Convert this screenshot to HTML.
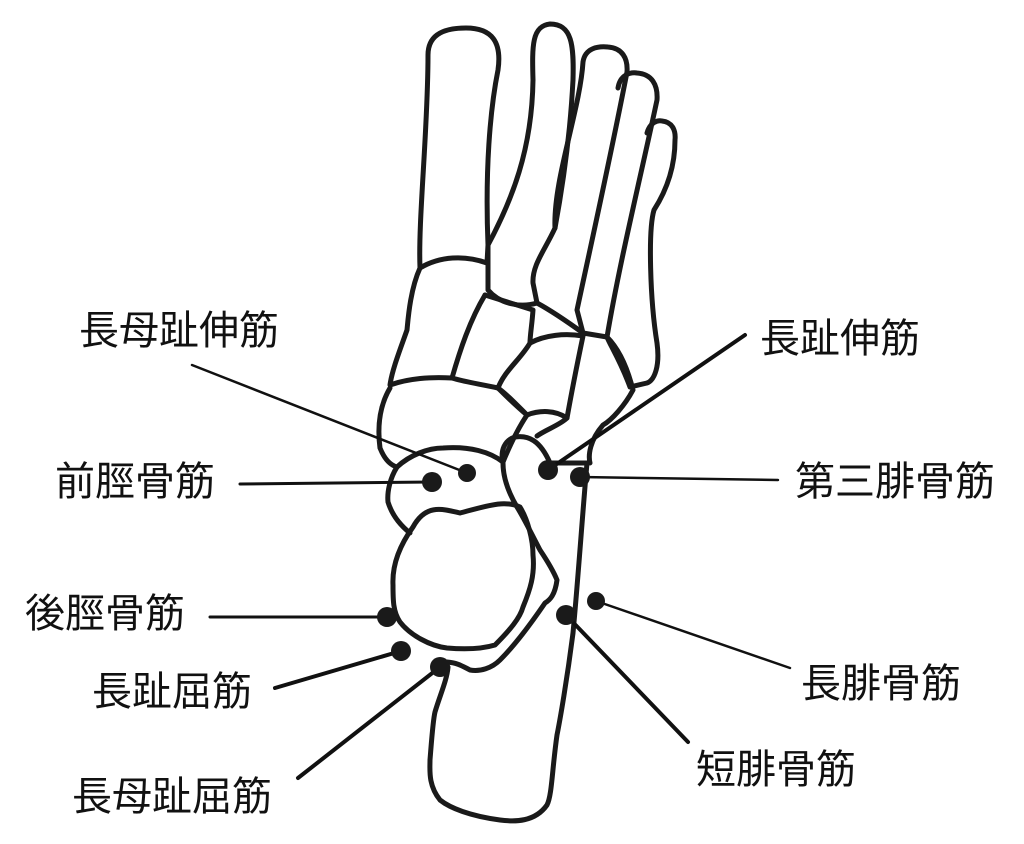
<!DOCTYPE html>
<html><head><meta charset="utf-8"><style>
html,body{margin:0;padding:0;background:#fff}
svg{display:block}
text{font-family:"Liberation Sans","Noto Sans CJK JP",sans-serif;font-size:40px;fill:#111}
</style></head><body>
<svg width="1024" height="844" viewBox="0 0 1024 844" xmlns="http://www.w3.org/2000/svg">
<g fill="none" stroke="#1a1a1a" stroke-width="5" stroke-linejoin="round" stroke-linecap="round">
<!-- big toe -->
<path d="M420,268 C418,220 428,130 428,55 C428,32 448,28 466,28 C492,28 502,42 498,70 C490,110 485,170 488,245 L487,263 C465,255 440,256 420,268 Z"/>
<!-- 2nd -->
<path d="M488,245 C512,200 532,150 533,80 C532,45 532,26 550,24 C572,24 574,45 573,80 C570,140 562,190 555,228 C545,250 532,265 533,283 L537,303 C520,308 500,304 488,290 Z"/>
<!-- 3rd -->
<path d="M555,228 C553,180 580,110 583,62 C585,48 598,46 608,47 C622,48 628,58 627,72 C612,150 592,240 577,310 L583,333 C565,320 550,310 537,303"/>
<!-- 4th -->
<path d="M618,88 C620,75 630,72 637,73 C652,74 658,85 657,100 C640,180 620,260 607,337 L583,333"/>
<!-- 5th -->
<path d="M647,133 C650,122 658,120 662,121 C672,122 676,130 675,140 C675,160 670,185 654,210 C648,230 650,300 657,343 C660,365 655,380 647,383 L630,387 C620,360 610,345 607,337"/>
<!-- cuneiforms -->
<path d="M420,268 C410,290 408,320 407,330 C400,350 392,370 390,385 C410,378 430,377 452,378 C460,350 470,320 485,295"/>
<path d="M485,295 L533,310 C532,325 530,335 530,343 C520,360 505,370 498,388 C480,384 465,382 452,378"/>
<path d="M530,343 C545,335 565,333 583,336 C578,360 572,390 567,418 C555,410 540,410 527,415 C515,405 505,395 498,388"/>
<path d="M607,337 C620,350 628,370 633,390 C625,405 612,420 603,425 C590,440 588,455 590,463"/>
<!-- navicular -->
<path d="M390,388 C380,405 377,425 380,448 C384,458 390,465 397,467 C410,455 428,448 443,448 C470,446 490,452 503,462 C510,445 517,430 527,415 C512,400 505,393 498,388"/>
<path d="M567,418 C560,425 545,430 537,436"/>
<!-- talus head circle -->
<path d="M397,467 C390,478 387,492 388,502 C392,515 400,525 410,533"/>
<!-- talus body -->
<path d="M460,513 C440,508 425,505 413,527 C400,545 392,565 393,585 C393,600 393,612 400,622 C410,635 430,646 447,648 C470,650 485,648 495,645 C510,630 520,618 523,607 C530,590 535,575 533,555 C533,540 528,520 520,507 C505,500 490,505 460,513 Z"/>
<!-- calcaneus -->
<path d="M503,463 C500,450 505,440 515,437 C528,435 540,440 550,463 L587,463 C582,520 578,580 573,633 C567,680 560,720 557,735 C552,770 552,795 547,805 C535,822 515,822 500,820 C470,816 450,808 440,800 C428,785 430,770 430,760 C432,735 433,720 435,712 C440,695 447,680 448,667"/>
<path d="M503,463 C503,475 507,490 517,507 C525,520 532,535 540,550 C550,565 555,575 557,580 C555,595 550,600 545,603 C530,625 515,645 500,660 C492,668 480,672 470,670 C462,666 458,663 447,662"/>
</g>
<g stroke="#111" stroke-linecap="round">
<line x1="192" y1="365" x2="467" y2="473" stroke-width="2.5"/>
<line x1="240" y1="484" x2="432" y2="482" stroke-width="3"/>
<line x1="745" y1="335" x2="548" y2="470" stroke-width="4"/>
<line x1="580" y1="477" x2="778" y2="480" stroke-width="2.5"/>
<line x1="210" y1="617" x2="387" y2="617" stroke-width="3"/>
<line x1="275" y1="688" x2="401" y2="651" stroke-width="4"/>
<line x1="298" y1="778" x2="440" y2="667" stroke-width="4"/>
<line x1="566" y1="615" x2="688" y2="742" stroke-width="4"/>
<line x1="596" y1="601" x2="790" y2="668" stroke-width="2.5"/>
</g>
<g fill="#1a1a1a">
<circle cx="467" cy="473" r="9"/>
<circle cx="432" cy="482" r="10"/>
<circle cx="548" cy="470" r="10"/>
<circle cx="580" cy="477" r="10"/>
<circle cx="387" cy="617" r="10"/>
<circle cx="401" cy="651" r="10"/>
<circle cx="440" cy="667" r="10"/>
<circle cx="566" cy="615" r="10"/>
<circle cx="596" cy="601" r="9"/>
</g>
<text x="79" y="344">長母趾伸筋</text>
<text x="760" y="352">長趾伸筋</text>
<text x="55" y="495">前脛骨筋</text>
<text x="795" y="495">第三腓骨筋</text>
<text x="25" y="627">後脛骨筋</text>
<text x="92" y="705">長趾屈筋</text>
<text x="801" y="697">長腓骨筋</text>
<text x="696" y="783">短腓骨筋</text>
<text x="72" y="810">長母趾屈筋</text>
</svg>
</body></html>
